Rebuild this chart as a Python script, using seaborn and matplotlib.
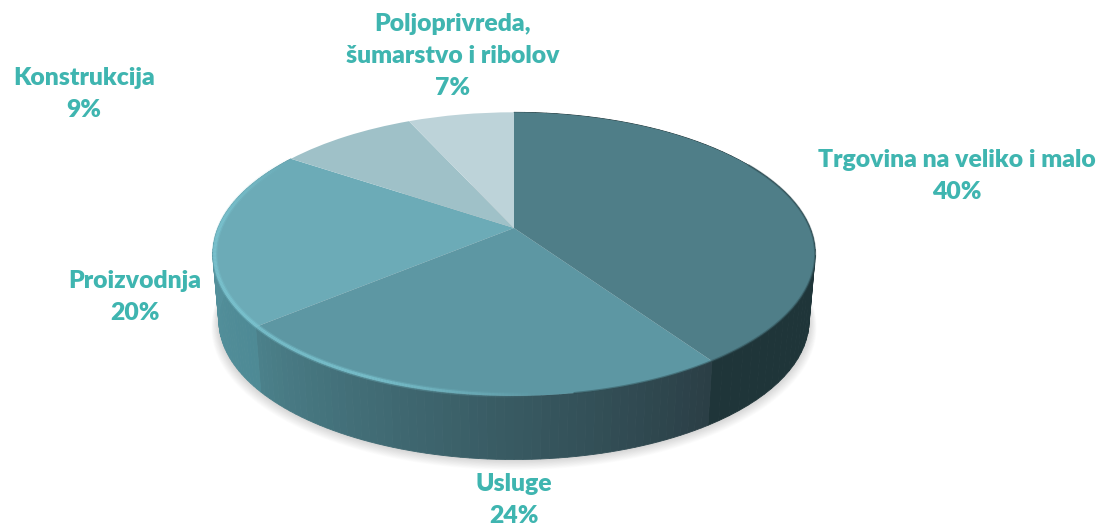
import numpy as np
import matplotlib
matplotlib.use('Agg')
import matplotlib.pyplot as plt
import matplotlib.colors as mcolors
from matplotlib.transforms import Transform
import seaborn as sns

# data
categories = ['Trgovina na veliko i malo', 'Usluge', 'Proizvodnja', 'Konstrukcija', 'Poljoprivreda,\nšumarstvo i ribolov']
shares = [40.4, 23.6, 20.4, 8.8, 6.8]

top_colors = ['#4f7e88', '#5d97a3', '#6cabb7', '#9fc1c8', '#bdd3d9']
# side wall colours: first and last shade going clockwise
side_colors = [('#1f3539', '#1f3539'), ('#2b3f46', '#4b808a'), ('#4e8a95', '#5b98a4')]
TEXT_COLOR = '#3fb5b0'

# label centres in pixels
label_pos = [(957, 176), (514, 500), (135, 297), (84, 94), (453, 56)]

sns.set_theme(style='white')
plt.rcParams['font.family'] = ['Lato', 'DejaVu Sans']

CX, CY = 514, 228      # where the slices meet
RX, RY = 296, 137      # scale of the tilted disc
TILT = 0.184           # perspective strength
DROP, SHRINK = 67, 0.98  # the lower rim of the wall


class TiltTransform(Transform):
    input_dims = 2
    output_dims = 2

    def __init__(self, scale=1.0, drop=0.0):
        super().__init__()
        self.scale = scale
        self.drop = drop

    def transform_non_affine(self, values):
        values = np.asarray(values)
        w = 1 + TILT * values[:, 1]
        x = CX + self.scale * RX * values[:, 0] / w
        y = CY + self.drop - self.scale * RY * values[:, 1] / w
        return np.column_stack([x, y])


def rim(theta, scale=1.0, drop=0.0):
    t = np.radians(theta)
    pts = np.column_stack([np.cos(t), np.sin(t)])
    return TiltTransform(scale, drop).transform_non_affine(pts)


fig = plt.figure(figsize=(10.99, 5.25), dpi=100)
ax = fig.add_axes([0, 0, 1, 1])

wedges, _ = ax.pie(shares, colors=top_colors, startangle=90, counterclock=False)
ax.set_aspect('auto')
ax.set_xlim(0, 1099)
ax.set_ylim(525, 0)
ax.axis('off')

top = TiltTransform()
for w in wedges:
    w.set_transform(top + ax.transData)
    w.set_zorder(5)
    w.set_edgecolor('none')

# soft shadow under the disc
circle = np.linspace(0, 360, 241)
for i in range(14):
    outline = rim(circle, SHRINK + 0.0018 * (14 - i), DROP + 0.45 * (14 - i))
    ax.fill(outline[:, 0], outline[:, 1], color='black', alpha=0.012, lw=0, zorder=1)

# side wall, split in thin strips so it can shade along the rim
for w, (c_start, c_end) in zip(wedges, side_colors):
    angles = np.linspace(w.theta2, w.theta1, 60)
    c0, c1 = np.array(mcolors.to_rgb(c_start)), np.array(mcolors.to_rgb(c_end))
    upper = rim(angles)
    lower = rim(angles, SHRINK, DROP)
    for j in range(len(angles) - 1):
        f = j / (len(angles) - 2)
        col = c0 + (c1 - c0) * f
        xs = [upper[j, 0], upper[j + 1, 0], lower[j + 1, 0], lower[j, 0]]
        ys = [upper[j, 1], upper[j + 1, 1], lower[j + 1, 1], lower[j, 1]]
        ax.fill(xs, ys, color=col, lw=0.6, zorder=3)

# bevel: light on the left part of the rim, dark on the right
bevel_angles = np.linspace(wedges[2].theta1, wedges[0].theta1, 300)
bevel = rim(bevel_angles, 0.994, 0)
for j in range(len(bevel_angles) - 1):
    x_mid = bevel[j, 0]
    strength = np.clip((540 - x_mid) / 170, 0, 1)
    strength *= np.clip((bevel_angles[j] - bevel_angles[0]) / 30, 0, 1)
    if strength > 0:
        ax.plot(bevel[j:j + 2, 0], bevel[j:j + 2, 1], color='#7cc6d2', lw=4.0,
                alpha=0.3 * strength, solid_capstyle='butt', zorder=6)
        ax.plot(bevel[j:j + 2, 0], bevel[j:j + 2, 1], color='#7cc6d2', lw=2.2,
                alpha=0.7 * strength, solid_capstyle='butt', zorder=6)
dark_angles = np.linspace(wedges[0].theta2 - 60, wedges[1].theta1 + 60, 100)
dark = rim(dark_angles, 1.0, 0)
ax.plot(dark[:, 0], dark[:, 1], color='#2f4f56', lw=1.5, alpha=0.5, zorder=6)

for name, share, (x, y) in zip(categories, shares, label_pos):
    ax.text(x, y, f'{name}\n{share:.0f}%', ha='center', va='center', fontsize=17.8,
            fontweight='heavy', color=TEXT_COLOR, linespacing=1.53, zorder=8)

fig.savefig('out.png', dpi=100)
